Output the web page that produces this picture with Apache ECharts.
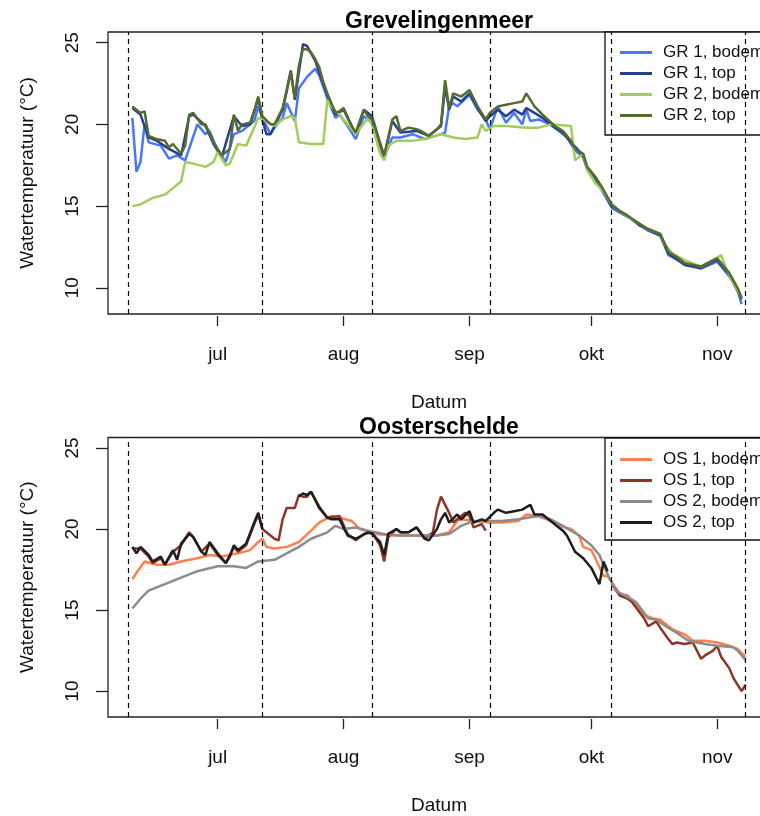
<!DOCTYPE html>
<html>
<head>
<meta charset="utf-8">
<script src="https://cdn.jsdelivr.net/npm/echarts@6/dist/echarts.min.js"></script>
<style>
  html, body { margin: 0; padding: 0; background: #fff; width: 760px; height: 816px; overflow: hidden; }
  #main { width: 790px; height: 816px; }
</style>
</head>
<body>
<div id="main"></div>
<script>
// tick labels / reference dates
const monthTicks = ['07-01', '08-01', '09-01', '10-01', '11-01'];
const monthLabels = ['jul', 'aug', 'sep', 'okt', 'nov'];
const campaignDates = ['06-09', '07-12', '08-08', '09-06', '10-06', '11-08'];
const yTicks = [10, 15, 20, 25];

// Grevelingenmeer
const gr1Bodem = [
  ['06-10', 20.4], ['06-11', 17.1], ['06-12', 17.7], ['06-13', 20.0], ['06-14', 18.9], ['06-17', 18.7],
  ['06-19', 17.9], ['06-21', 18.1], ['06-23', 17.8], ['06-26', 20.0], ['06-28', 19.4], ['06-29', 19.6],
  ['07-01', 18.4], ['07-03', 17.7], ['07-05', 19.4], ['07-07', 19.6], ['07-10', 20.2], ['07-11', 21.1],
  ['07-12', 20.4], ['07-14', 19.4], ['07-15', 19.8], ['07-17', 20.4], ['07-18', 21.3], ['07-20', 20.2],
  ['07-21', 22.2], ['07-23', 22.9], ['07-25', 23.4], ['07-26', 23.0], ['07-28', 21.6], ['07-30', 20.4],
  ['07-31', 20.6], ['08-02', 19.9], ['08-04', 19.1], ['08-06', 20.5], ['08-08', 20.1], ['08-11', 18.0],
  ['08-13', 19.2], ['08-15', 19.2], ['08-18', 19.4], ['08-21', 19.1], ['08-25', 19.4], ['08-26', 19.5],
  ['08-27', 21.1], ['08-28', 21.3], ['08-29', 21.1], ['09-01', 21.8], ['09-03', 20.9], ['09-05', 20.3],
  ['09-06', 19.7], ['09-08', 21.1], ['09-10', 20.1], ['09-12', 20.7], ['09-14', 20.0], ['09-15', 20.9],
  ['09-16', 20.2], ['09-18', 20.3], ['09-20', 20.1], ['09-22', 19.8], ['09-25', 19.2], ['09-27', 18.4],
  ['09-29', 18.0], ['09-30', 17.2], ['10-02', 16.6], ['10-04', 15.8], ['10-06', 14.9], ['10-08', 14.6],
  ['10-11', 14.2], ['10-15', 13.5], ['10-18', 13.2], ['10-20', 12.0], ['10-24', 11.5], ['10-28', 11.2],
  ['10-31', 11.5], ['11-01', 11.6], ['11-04', 10.7], ['11-06', 9.9], ['11-07', 9.0]
];
const gr1Top = [
  ['06-10', 21.0], ['06-12', 20.6], ['06-14', 19.2], ['06-16', 19.0], ['06-19', 18.5], ['06-22', 18.1],
  ['06-24', 20.5], ['06-25', 20.6], ['06-28', 19.9], ['06-30', 18.8], ['07-02', 18.0], ['07-05', 20.5],
  ['07-07', 19.9], ['07-09', 20.0], ['07-11', 21.6], ['07-12', 20.3], ['07-13', 19.4], ['07-14', 19.4],
  ['07-15', 19.9], ['07-17', 20.9], ['07-19', 23.3], ['07-20', 21.5], ['07-22', 24.9], ['07-23', 24.8],
  ['07-25', 23.9], ['07-27', 22.5], ['07-28', 21.8], ['07-30', 20.6], ['08-01', 20.9], ['08-04', 19.4],
  ['08-06', 20.9], ['08-08', 20.5], ['08-11', 18.0], ['08-13', 20.2], ['08-15', 19.5], ['08-19', 19.6],
  ['08-22', 19.3], ['08-25', 19.9], ['08-26', 22.3], ['08-27', 20.9], ['08-28', 21.7], ['08-30', 21.4],
  ['09-01', 21.9], ['09-03', 21.0], ['09-05', 20.2], ['09-06', 20.5], ['09-08', 20.9], ['09-10', 20.5],
  ['09-12', 20.9], ['09-14', 20.6], ['09-15', 21.0], ['09-17', 20.7], ['09-19', 20.4], ['09-22', 19.8],
  ['09-24', 19.5], ['09-26', 18.9], ['09-29', 18.1], ['09-30', 17.3], ['10-02', 16.7], ['10-04', 15.9],
  ['10-06', 15.0], ['10-10', 14.4], ['10-13', 13.8], ['10-18', 13.2], ['10-20', 12.1], ['10-24', 11.4],
  ['10-28', 11.2], ['10-31', 11.6], ['11-01', 11.7], ['11-04', 10.8], ['11-07', 9.3]
];
const gr2Bodem = [
  ['06-10', 15.0], ['06-12', 15.1], ['06-15', 15.5], ['06-18', 15.7], ['06-20', 16.1], ['06-22', 16.5],
  ['06-23', 17.7], ['06-25', 17.6], ['06-28', 17.4], ['06-30', 17.7], ['07-01', 18.3], ['07-03', 17.5],
  ['07-04', 17.6], ['07-06', 18.8], ['07-08', 18.7], ['07-10', 19.8], ['07-11', 20.4], ['07-13', 20.2],
  ['07-15', 19.9], ['07-17', 20.3], ['07-19', 20.5], ['07-20', 20.4], ['07-21', 18.9], ['07-24', 18.8],
  ['07-27', 18.8], ['07-28', 21.5], ['07-29', 21.1], ['07-31', 20.6], ['08-02', 20.0], ['08-04', 19.4],
  ['08-07', 20.4], ['08-08', 20.0], ['08-10', 18.2], ['08-11', 17.8], ['08-12', 18.7], ['08-14', 19.0],
  ['08-18', 19.0], ['08-21', 19.1], ['08-25', 19.4], ['08-28', 19.2], ['08-31', 19.1], ['09-03', 19.2],
  ['09-04', 20.0], ['09-05', 19.6], ['09-07', 19.9], ['09-10', 19.9], ['09-15', 19.8], ['09-18', 19.8],
  ['09-21', 20.0], ['09-26', 19.9], ['09-27', 17.8], ['09-29', 18.2], ['09-30', 17.2], ['10-02', 16.4],
  ['10-04', 15.9], ['10-06', 15.1], ['10-08', 14.7], ['10-11', 14.2], ['10-15', 13.6], ['10-18', 13.3],
  ['10-19', 12.7], ['10-21', 12.1], ['10-24', 11.7], ['10-28', 11.3], ['10-31', 11.7], ['11-02', 12.0],
  ['11-03', 11.3], ['11-05', 10.3], ['11-07', 9.4]
];
const gr2Top = [
  ['06-10', 21.1], ['06-11', 20.9], ['06-12', 20.7], ['06-13', 20.8], ['06-14', 19.3], ['06-16', 19.1],
  ['06-18', 19.0], ['06-19', 18.6], ['06-20', 18.8], ['06-22', 18.2], ['06-23', 18.7], ['06-24', 20.6],
  ['06-25', 20.7], ['06-27', 20.0], ['06-28', 20.0], ['06-30', 18.9], ['07-02', 18.1], ['07-04', 18.5],
  ['07-05', 20.6], ['07-06', 19.6], ['07-07', 20.0], ['07-09', 20.1], ['07-10', 20.8], ['07-11', 21.7],
  ['07-12', 20.5], ['07-14', 20.0], ['07-15', 20.0], ['07-17', 21.0], ['07-18', 22.0], ['07-19', 23.2],
  ['07-20', 21.6], ['07-21', 23.6], ['07-22', 24.6], ['07-23', 24.6], ['07-24', 24.4], ['07-25', 24.0],
  ['07-26', 23.5], ['07-27', 22.6], ['07-28', 21.9], ['07-29', 21.3], ['07-30', 20.7], ['07-31', 20.8],
  ['08-01', 21.0], ['08-03', 19.9], ['08-04', 19.5], ['08-06', 20.9], ['08-07', 20.5], ['08-08', 20.3],
  ['08-09', 19.6], ['08-11', 18.1], ['08-12', 19.2], ['08-13', 20.3], ['08-14', 20.5], ['08-15', 19.6],
  ['08-17', 19.8], ['08-19', 19.7], ['08-20', 19.6], ['08-22', 19.3], ['08-24', 19.7], ['08-25', 20.0],
  ['08-26', 22.7], ['08-27', 21.0], ['08-28', 21.9], ['08-30', 21.7], ['09-01', 22.1], ['09-03', 21.1],
  ['09-05', 20.3], ['09-06', 20.7], ['09-08', 21.1], ['09-10', 21.2], ['09-12', 21.3], ['09-14', 21.4],
  ['09-15', 21.9], ['09-17', 21.1], ['09-19', 20.6], ['09-22', 19.9], ['09-24', 19.6], ['09-26', 19.0],
  ['09-27', 18.5], ['09-29', 18.2], ['09-30', 17.4], ['10-02', 16.8], ['10-04', 16.0], ['10-06', 15.1],
  ['10-08', 14.7], ['10-10', 14.4], ['10-13', 13.9], ['10-15', 13.6], ['10-18', 13.3], ['10-20', 12.2],
  ['10-22', 11.9], ['10-24', 11.5], ['10-28', 11.3], ['10-31', 11.7], ['11-01', 11.8], ['11-04', 10.9],
  ['11-06', 10.0], ['11-07', 9.4]
];

// Oosterschelde (null = no measurements)
const os1Bodem = [
  ['06-10', 16.9], ['06-11', 17.3], ['06-13', 18.0], ['06-16', 17.8], ['06-19', 17.8], ['06-22', 18.0],
  ['06-26', 18.2], ['06-29', 18.4], ['07-02', 18.3], ['07-06', 18.5], ['07-09', 18.7], ['07-11', 19.2],
  ['07-12', 19.4], ['07-13', 18.9], ['07-15', 18.8], ['07-18', 18.9], ['07-21', 19.2], ['07-24', 19.9],
  ['07-26', 20.4], ['07-29', 20.8], ['07-31', 20.7], ['08-03', 20.5], ['08-05', 20.0], ['08-09', 19.7],
  ['08-13', 19.6], ['08-16', 19.6], ['08-20', 19.6], ['08-24', 19.6], ['08-27', 19.8], ['08-29', 20.5],
  ['08-30', 20.6], ['09-02', 20.5], ['09-06', 20.4], ['09-09', 20.4], ['09-13', 20.5], ['09-15', 20.9],
  ['09-18', 20.8], ['09-21', 20.5], ['09-23', 20.2], ['09-26', 20.0], ['09-28', 19.6], ['09-29', 18.9],
  ['10-01', 18.7], ['10-02', 18.2], ['10-04', 17.1], ['10-05', 17.1], ['10-08', 16.0], ['10-10', 15.9],
  ['10-14', 14.7], ['10-16', 14.5], ['10-18', 14.4], ['10-21', 13.8], ['10-24', 13.5], ['10-26', 13.1],
  ['10-29', 13.1], ['11-01', 13.0], ['11-04', 12.8], ['11-06', 12.6], ['11-08', 12.1]
];
const os1Top = [
  ['06-10', 18.8], ['06-12', 18.8], ['06-14', 18.3], ['06-15', 17.9], ['06-17', 18.2], ['06-18', 17.8],
  ['06-20', 18.6], ['06-22', 19.0], ['06-24', 19.8], ['06-25', 19.5], ['06-27', 18.6], ['06-29', 19.1],
  ['07-01', 18.4], ['07-03', 17.9], ['07-05', 18.9], ['07-06', 18.6], ['07-08', 19.0], ['07-10', 20.3],
  ['07-11', 20.9], ['07-12', 20.0], ['07-14', 19.6], ['07-15', 19.4], ['07-16', 19.3], ['07-17', 20.6],
  ['07-18', 21.3], ['07-20', 21.3], ['07-21', 22.1], ['07-22', 22.0], ['07-23', 22.0], ['07-24', 22.3],
  ['07-26', 21.4], ['07-28', 20.7], ['07-31', 20.8], ['08-02', 19.7], ['08-04', 19.3], ['08-06', 19.7],
  ['08-08', 19.8], ['08-10', 19.0], ['08-11', 18.0], ['08-12', 19.5], ['08-14', 20.0], ['08-15', 19.8],
  ['08-17', 19.8], ['08-19', 20.1], ['08-21', 19.4], ['08-23', 19.8], ['08-24', 21.2], ['08-25', 22.0],
  ['08-27', 21.0], ['08-28', 20.4], ['08-29', 20.6], ['08-31', 21.0], ['09-01', 20.8], ['09-02', 20.1],
  ['09-04', 20.3], ['09-05', 19.9], ['09-20', null],
  ['10-06', 16.6], ['10-08', 15.9], ['10-10', 15.7], ['10-11', 15.5], ['10-14', 14.5], ['10-15', 14.0],
  ['10-17', 14.3], ['10-18', 13.9], ['10-20', 13.2], ['10-21', 12.9], ['10-22', 13.0], ['10-24', 12.9],
  ['10-26', 13.0], ['10-28', 12.0], ['10-29', 12.2], ['10-31', 12.5], ['11-01', 12.8], ['11-02', 12.1],
  ['11-04', 11.4], ['11-05', 10.8], ['11-07', 10.0], ['11-08', 10.4]
];
const os2Bodem = [
  ['06-10', 15.1], ['06-12', 15.7], ['06-14', 16.2], ['06-18', 16.6], ['06-22', 17.0], ['06-26', 17.4],
  ['07-01', 17.7], ['07-05', 17.7], ['07-08', 17.6], ['07-11', 18.0], ['07-15', 18.1], ['07-18', 18.5],
  ['07-21', 18.9], ['07-24', 19.4], ['07-28', 19.8], ['07-30', 20.2], ['08-01', 20.0], ['08-04', 20.1],
  ['08-07', 19.9], ['08-11', 19.7], ['08-15', 19.6], ['08-20', 19.6], ['08-24', 19.6], ['08-27', 19.7],
  ['08-30', 20.2], ['09-02', 20.5], ['09-05', 20.5], ['09-09', 20.5], ['09-13', 20.6], ['09-18', 20.8],
  ['09-21', 20.6], ['09-24', 20.2], ['09-28', 19.6], ['10-01', 19.0], ['10-03', 18.4], ['10-05', 17.2],
  ['10-07', 16.2], ['10-10', 15.8], ['10-12', 15.5], ['10-15', 14.5], ['10-17', 14.4], ['10-20', 13.9],
  ['10-22', 13.6], ['10-25', 13.1], ['10-29', 12.9], ['11-01', 12.8], ['11-05', 12.7], ['11-06', 12.5],
  ['11-08', 11.9]
];
const os2Top = [
  ['06-10', 18.9], ['06-11', 18.5], ['06-12', 18.9], ['06-14', 18.4], ['06-15', 18.0], ['06-17', 18.3],
  ['06-18', 17.8], ['06-20', 18.7], ['06-21', 18.1], ['06-22', 19.1], ['06-24', 19.7], ['06-25', 19.5],
  ['06-27', 18.6], ['06-28', 18.4], ['06-29', 19.2], ['07-01', 18.5], ['07-03', 17.9], ['07-04', 18.3],
  ['07-05', 19.0], ['07-06', 18.7], ['07-08', 19.1], ['07-10', 20.4], ['07-11', 21.0], ['07-12', 20.0],
  ['07-16', null],
  ['07-21', 22.0], ['07-22', 22.2], ['07-23', 22.1], ['07-24', 22.3], ['07-26', 21.3], ['07-28', 20.7],
  ['07-29', 20.6], ['07-31', 20.6], ['08-02', 19.6], ['08-04', 19.4], ['08-07', 19.8], ['08-08', 19.7],
  ['08-10', 19.2], ['08-11', 18.4], ['08-12', 19.7], ['08-14', 20.0], ['08-15', 19.8], ['08-17', 19.8],
  ['08-19', 20.1], ['08-21', 19.4], ['08-22', 19.3], ['08-24', 20.0], ['08-25', 20.6], ['08-26', 21.0],
  ['08-27', 20.4], ['08-29', 20.9], ['08-30', 20.6], ['09-01', 21.1], ['09-02', 20.4], ['09-04', 20.6],
  ['09-05', 20.5], ['09-07', 21.0], ['09-08', 21.2], ['09-10', 21.0], ['09-12', 21.1], ['09-14', 21.2],
  ['09-16', 21.5], ['09-17', 20.9], ['09-19', 20.9], ['09-21', 20.5], ['09-24', 19.9], ['09-25', 19.6],
  ['09-27', 18.6], ['09-29', 18.2], ['10-01', 17.6], ['10-03', 16.6], ['10-04', 18.0], ['10-05', 17.4]
];

const FONT = '"Liberation Sans", Arial, sans-serif';
const START = Date.UTC(2019, 5, 1); // day 0 = 1 juni

function day(s) {
  const [m, d] = s.split('-').map(Number);
  return (Date.UTC(2019, m - 1, d) - START) / 86400000;
}
function toXY(arr) {
  return arr.map(p => [day(p[0]), p[1] === null ? '-' : p[1]]);
}

const labelByDay = {};
monthTicks.forEach((t, i) => { labelByDay[day(t)] = monthLabels[i]; });

const panels = [
  { title: 'Grevelingenmeer', top: 32, height: 282, legendTop: 32, legendPad: [12, 30, 11, 15],
    series: [
      ['GR 1, bodem', gr1Bodem, '#4876FF'],
      ['GR 1, top', gr1Top, '#27408B'],
      ['GR 2, bodem', gr2Bodem, '#A2CD5A'],
      ['GR 2, top', gr2Top, '#556B2F']
    ] },
  { title: 'Oosterschelde', top: 437.5, height: 281.5, legendTop: 438, legendPad: [13, 30, 9, 15],
    series: [
      ['OS 1, bodem', os1Bodem, '#FF7F50'],
      ['OS 1, top', os1Top, '#8B3626'],
      ['OS 2, bodem', os2Bodem, '#8C8C8C'],
      ['OS 2, top', os2Top, '#1E1E1E']
    ] }
];

const chart = echarts.init(document.getElementById('main'), null, { renderer: 'canvas' });

const grid = [], xAxis = [], yAxis = [], legend = [], series = [], graphic = [];
panels.forEach((p, i) => {
  grid.push({
    left: 108, top: p.top, width: 662, height: p.height,
    show: true, borderColor: '#222', borderWidth: 1.3, backgroundColor: 'transparent'
  });
  xAxis.push({
    gridIndex: i, type: 'value', min: 3, max: 166, offset: 2,
    name: 'Datum', nameLocation: 'middle', nameGap: 77,
    nameTextStyle: { fontFamily: FONT, fontSize: 19, color: '#111' },
    axisLine: { show: false },
    splitLine: { show: false },
    axisTick: { show: true, length: 10, customValues: monthTicks.map(day), lineStyle: { color: '#222', width: 1.3 } },
    axisLabel: {
      customValues: monthTicks.map(day), margin: 29,
      fontFamily: FONT, fontSize: 19, color: '#111',
      formatter: v => labelByDay[v] || ''
    }
  });
  yAxis.push({
    gridIndex: i, type: 'value', min: 8.4, max: 25.65,
    name: 'Watertemperatuur (°C)', nameLocation: 'middle', nameGap: 71,
    nameTextStyle: { fontFamily: FONT, fontSize: 19, color: '#111' },
    axisLine: { show: false },
    splitLine: { show: false },
    axisTick: { show: true, length: 12, customValues: yTicks, lineStyle: { color: '#222', width: 1.3 } },
    axisLabel: {
      customValues: yTicks, rotate: 90, margin: 26,
      fontFamily: FONT, fontSize: 19, color: '#111'
    }
  });
  legend.push({
    data: p.series.map(s => s[0]),
    orient: 'vertical', left: 605, top: p.legendTop,
    padding: p.legendPad, itemWidth: 32, itemHeight: 3, itemGap: 4,
    icon: 'rect',
    borderColor: '#111', borderWidth: 1.3, backgroundColor: '#fff',
    selectedMode: false,
    textStyle: { fontFamily: FONT, fontSize: 17, lineHeight: 16, color: '#111', padding: [0, 0, 0, 6] }
  });
  p.series.forEach((s, k) => {
    const item = {
      name: s[0], type: 'line', xAxisIndex: i, yAxisIndex: i,
      data: toXY(s[1]), symbol: 'none', connectNulls: false,
      lineStyle: { color: s[2], width: 2.5 }, itemStyle: { color: s[2] },
      z: 2 + k
    };
    if (k === 0) {
      item.markLine = {
        silent: true, symbol: 'none', label: { show: false },
        lineStyle: { color: '#000', type: [5, 4], width: 1.2 },
        data: campaignDates.map(d => ({ xAxis: day(d) }))
      };
    }
    series.push(item);
  });
  graphic.push({
    type: 'text',
    x: 439, y: p.top - 10,
    style: {
      text: p.title, textAlign: 'center', textVerticalAlign: 'middle',
      font: 'bold 23px ' + FONT, fill: '#000'
    }
  });
});

chart.setOption({
  animation: false,
  backgroundColor: '#fff',
  grid, xAxis, yAxis, legend, series, graphic
});
</script>
</body>
</html>
